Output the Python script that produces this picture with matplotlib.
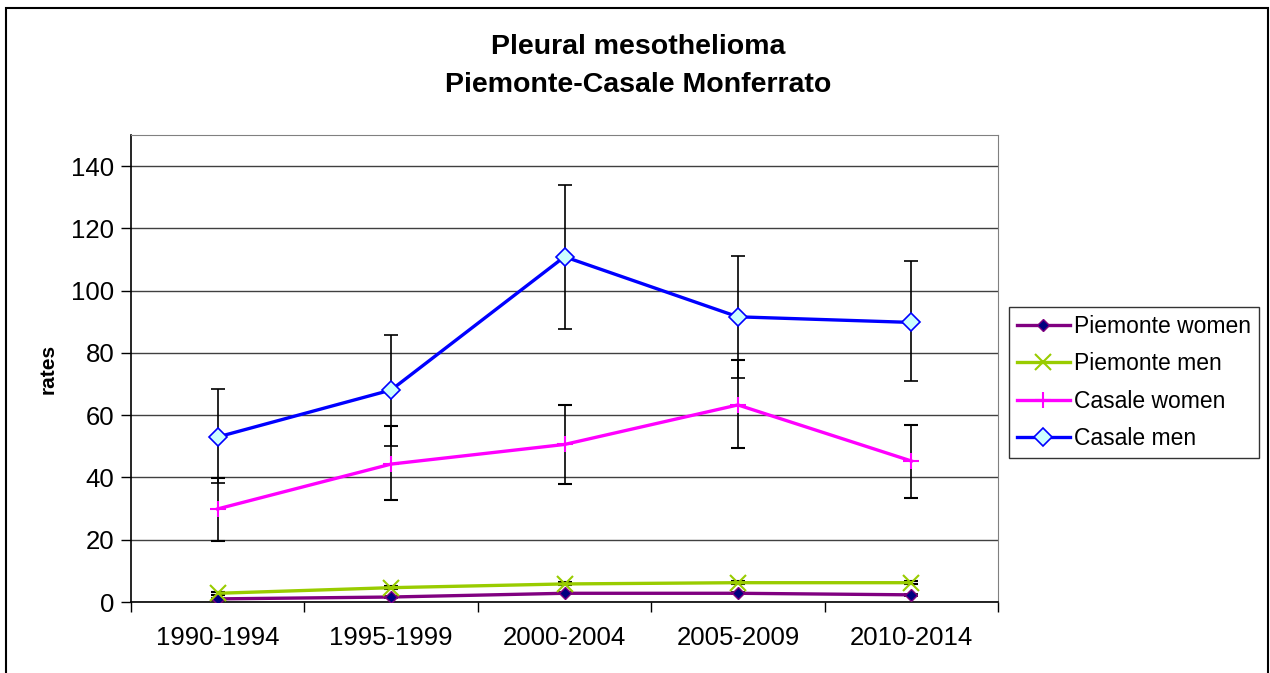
import matplotlib.pyplot as plt
from matplotlib.patches import Rectangle

plt.rcParams['font.family'] = ['Liberation Sans', 'DejaVu Sans']

periods = ['1990-1994', '1995-1999', '2000-2004', '2005-2009', '2010-2014']

piem_women = [1.0, 1.6, 2.8, 2.8, 2.3]
piem_women_lo = [0.8, 1.3, 2.5, 2.5, 2.0]
piem_women_hi = [1.2, 1.9, 3.1, 3.1, 2.6]

piem_men = [2.8, 4.6, 5.8, 6.2, 6.2]
piem_men_lo = [2.3, 4.1, 5.3, 5.7, 5.7]
piem_men_hi = [3.3, 5.1, 6.3, 6.7, 6.7]

casale_women = [29.9, 44.3, 50.6, 63.3, 45.3]
casale_women_lo = [19.6, 32.8, 37.9, 49.6, 33.3]
casale_women_hi = [39.7, 56.4, 63.3, 77.7, 56.9]

casale_men = [53.0, 68.1, 110.9, 91.6, 89.8]
casale_men_lo = [38.1, 50.1, 87.6, 72.0, 71.0]
casale_men_hi = [68.5, 85.8, 133.9, 111.2, 109.6]


def err(v, lo, hi):
    return [[a - b for a, b in zip(v, lo)], [c - a for a, c in zip(v, hi)]]


fig = plt.figure(figsize=(12.7, 6.73), dpi=100)
ax = fig.add_axes([131 / 1270, 1 - 602 / 673, 867 / 1270, 467 / 673])

x = list(range(len(periods)))
ebkw = dict(ecolor='black', elinewidth=1.2, capsize=5, capthick=1.2)

ax.errorbar(x, piem_women, yerr=err(piem_women, piem_women_lo, piem_women_hi),
            color='#800080', lw=2.4, marker='D', ms=6, mfc='#000080', mec='#800080',
            label='Piemonte women', zorder=3, **ebkw)
ax.errorbar(x, piem_men, yerr=err(piem_men, piem_men_lo, piem_men_hi),
            color='#99CC00', lw=2.4, marker='x', ms=11, mew=1.5,
            label='Piemonte men', zorder=3, **ebkw)
ax.errorbar(x, casale_women, yerr=err(casale_women, casale_women_lo, casale_women_hi),
            color='#FF00FF', lw=2.4, marker='+', ms=11, mew=1.5,
            label='Casale women', zorder=3, **ebkw)
ax.errorbar(x, casale_men, yerr=err(casale_men, casale_men_lo, casale_men_hi),
            color='#0000FF', lw=2.4, marker='D', ms=9, mfc='#CCFFFF', mec='#0000FF', mew=1.2,
            label='Casale men', zorder=3, **ebkw)

ax.set_xlim(-0.5, len(periods) - 0.5)
ax.set_ylim(0, 150)
ax.set_yticks(range(0, 141, 20))
ax.set_xticks(x)
ax.set_xticklabels(periods)
ax.set_xticks([i - 0.5 for i in range(len(periods) + 1)], minor=True)
ax.tick_params(axis='x', which='major', length=0, pad=17, labelsize=18.5)
ax.tick_params(axis='x', which='minor', length=7, width=1, direction='out')
ax.tick_params(axis='y', length=7, width=1, direction='out', labelsize=18.5, pad=5)
ax.yaxis.grid(True, color='#404040', lw=1)
ax.set_axisbelow(True)
for s in ['top', 'right']:
    ax.spines[s].set_color('#808080')
for s in ['left', 'bottom']:
    ax.spines[s].set_color('black')
    ax.spines[s].set_linewidth(1.2)

ax.set_ylabel('rates', fontsize=15, fontweight='bold', labelpad=10)

fig.text(638 / 1270, 1 - 47 / 673, 'Pleural mesothelioma', ha='center', va='center',
         fontsize=20.5, fontweight='bold')
fig.text(638 / 1270, 1 - 85 / 673, 'Piemonte-Casale Monferrato', ha='center', va='center',
         fontsize=20.5, fontweight='bold')

handles, labels = ax.get_legend_handles_labels()
handles = [h[0] for h in handles]
leg = fig.legend(handles, labels, loc='upper left', bbox_to_anchor=(1009 / 1270, 1 - 307 / 673),
                 fontsize=16.5, frameon=True, fancybox=False, edgecolor='black',
                 handlelength=2.3, handletextpad=0.2, labelspacing=0.63, borderpad=0.35,
                 borderaxespad=0)
leg.get_frame().set_linewidth(1)

fig.add_artist(Rectangle((6 / 1270, -0.1), 1262 / 1270, 1.1 - 8 / 673,
                         transform=fig.transFigure, fill=False, ec='black', lw=1.5))

fig.savefig('out.png', dpi=100)
